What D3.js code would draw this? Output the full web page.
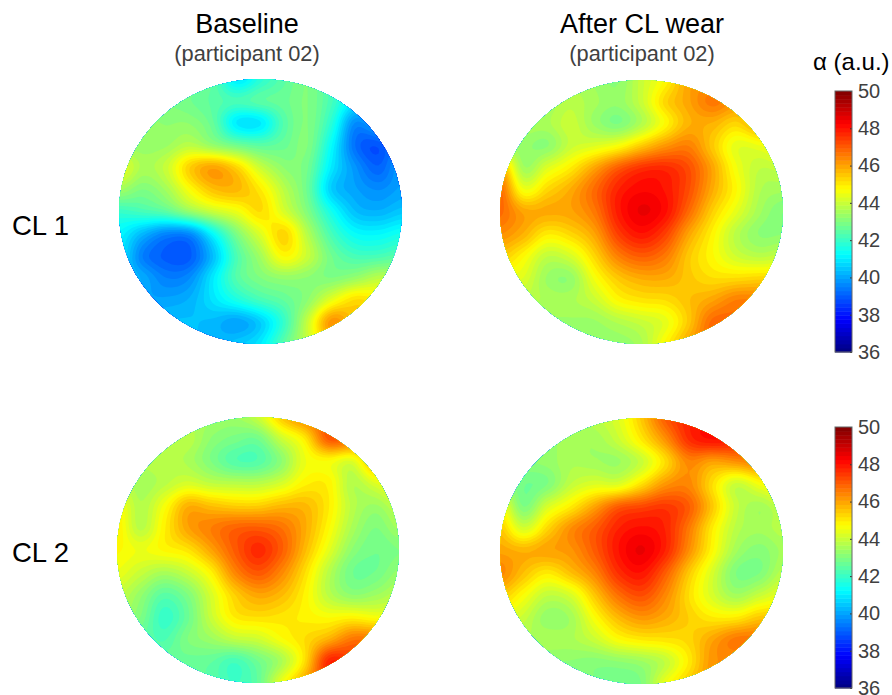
<!DOCTYPE html>
<html>
<head>
<meta charset="utf-8">
<script src="https://cdn.jsdelivr.net/npm/d3@7"></script>
<style>
  html, body { margin: 0; padding: 0; background: #fff; overflow: hidden; }
  text { font-family: "Liberation Sans", Arial, sans-serif; }
</style>
</head>
<body>
<svg id="viz" width="892" height="695"></svg>
<script>
window.onload = main;

var colorTicks = [36, 38, 40, 42, 44, 46, 48, 50];
var colorDomain = [36, 50];
var colorLevels = 64;

var columnTitles = ["Baseline", "After CL wear"];
var columnNote = "(participant 02)";
var rowTitles = ["CL 1", "CL 2"];
var colorTitle = "α (a.u.)";

// alpha on a 13x13 grid over each disc's bounding box (outside the disc = nearest edge value)
var baselineCL1 = [
  [43.0, 43.0, 43.0, 43.0, 42.5, 41.0, 41.8, 42.5, 43.0, 42.2, 41.5, 41.0, 41.0],
  [43.0, 43.0, 43.0, 42.8, 42.5, 42.2, 42.5, 42.7, 43.0, 42.2, 41.0, 41.0, 41.0],
  [43.3, 43.3, 43.2, 43.2, 42.6, 41.0, 41.0, 42.4, 43.0, 41.8, 39.7, 40.3, 41.0],
  [43.4, 43.3, 43.4, 43.8, 43.3, 42.8, 42.5, 42.7, 43.0, 41.3, 39.3, 38.9, 40.0],
  [44.5, 43.6, 44.0, 45.4, 46.0, 45.3, 44.0, 43.2, 42.8, 41.0, 39.8, 39.1, 40.0],
  [43.5, 43.0, 43.5, 44.7, 45.6, 45.7, 45.0, 43.8, 42.7, 40.6, 40.0, 39.7, 40.0],
  [42.0, 42.2, 42.5, 43.3, 44.0, 44.5, 45.2, 44.2, 43.0, 41.5, 40.4, 40.2, 40.5],
  [41.2, 40.3, 39.6, 39.7, 41.3, 43.0, 44.3, 45.3, 43.7, 42.2, 41.3, 41.2, 41.5],
  [41.0, 39.5, 39.0, 39.0, 40.4, 42.3, 43.5, 44.8, 44.0, 42.8, 42.2, 42.2, 42.5],
  [40.6, 40.1, 39.5, 39.7, 41.0, 42.4, 43.0, 43.3, 43.2, 43.0, 43.3, 43.8, 43.8],
  [40.0, 40.0, 40.0, 40.2, 40.9, 41.6, 42.2, 42.6, 43.2, 44.4, 45.2, 45.0, 45.0],
  [40.4, 40.4, 40.4, 40.4, 40.3, 40.0, 40.6, 42.0, 44.0, 46.2, 45.5, 45.5, 45.5],
  [40.4, 40.4, 40.4, 40.4, 40.3, 40.5, 41.0, 42.5, 44.0, 45.5, 45.0, 45.0, 45.0]
];
var afterCL1 = [
  [43.5, 43.5, 43.5, 43.6, 43.4, 43.2, 44.0, 44.8, 46.0, 46.2, 46.2, 46.2, 46.2],
  [43.5, 43.5, 43.5, 43.8, 43.5, 43.3, 44.0, 45.3, 46.0, 46.6, 46.2, 46.2, 46.2],
  [43.6, 43.6, 43.6, 44.0, 43.4, 43.0, 43.7, 44.8, 45.8, 45.8, 45.3, 46.0, 46.0],
  [43.5, 43.3, 43.2, 44.0, 44.3, 44.7, 45.5, 46.2, 46.5, 45.5, 44.4, 44.5, 45.0],
  [46.0, 43.5, 44.3, 45.0, 46.0, 47.0, 47.6, 47.7, 47.2, 46.0, 44.6, 43.9, 44.0],
  [46.8, 44.6, 45.3, 45.9, 46.8, 47.8, 48.2, 48.0, 47.2, 45.9, 44.8, 43.7, 43.5],
  [46.8, 46.0, 45.9, 46.0, 46.6, 47.9, 48.5, 48.1, 46.8, 45.4, 44.4, 43.5, 43.0],
  [46.3, 45.8, 45.0, 45.3, 46.0, 47.4, 48.0, 47.4, 46.0, 44.9, 43.8, 43.2, 43.2],
  [45.5, 44.8, 43.9, 44.2, 45.3, 46.5, 47.0, 46.6, 45.5, 44.8, 44.1, 43.8, 44.0],
  [44.5, 44.3, 43.4, 43.3, 44.6, 45.5, 45.9, 45.9, 45.5, 45.2, 45.2, 45.3, 45.3],
  [43.8, 43.8, 43.6, 43.6, 44.0, 44.8, 45.1, 45.2, 45.6, 46.0, 46.5, 46.5, 46.5],
  [43.4, 43.4, 43.4, 43.4, 43.4, 43.7, 44.0, 44.4, 45.5, 46.8, 46.8, 46.8, 46.8],
  [43.4, 43.4, 43.4, 43.4, 43.4, 43.3, 43.6, 44.8, 46.0, 46.8, 46.8, 46.8, 46.8]
];
var baselineCL2 = [
  [43.6, 43.6, 43.6, 43.6, 43.5, 43.4, 44.0, 45.5, 46.5, 47.0, 47.0, 47.0, 47.0],
  [43.6, 43.6, 43.7, 43.8, 43.2, 42.9, 42.8, 44.0, 45.0, 47.0, 46.8, 46.5, 46.5],
  [43.7, 43.7, 43.8, 43.6, 43.0, 42.4, 42.4, 43.2, 44.5, 44.7, 44.3, 46.0, 46.0],
  [44.0, 43.5, 43.8, 44.2, 43.9, 43.8, 43.8, 44.2, 44.9, 44.9, 43.7, 44.3, 45.0],
  [44.8, 43.7, 44.6, 45.8, 45.6, 45.4, 45.4, 45.7, 45.7, 45.0, 43.8, 43.4, 44.0],
  [45.0, 43.8, 44.9, 46.0, 46.5, 46.9, 47.0, 46.7, 45.9, 44.8, 43.6, 43.0, 43.5],
  [44.8, 44.5, 44.8, 45.1, 46.0, 47.0, 47.7, 47.0, 45.7, 44.4, 43.2, 42.8, 43.0],
  [44.5, 44.0, 43.6, 44.0, 44.9, 46.4, 47.1, 46.4, 45.2, 43.8, 42.8, 42.8, 43.3],
  [44.0, 43.3, 42.5, 43.0, 44.2, 45.4, 46.0, 45.7, 44.9, 43.8, 43.2, 43.4, 43.8],
  [43.5, 43.0, 42.0, 42.7, 44.0, 45.0, 45.2, 45.1, 44.9, 44.7, 44.8, 44.6, 44.6],
  [42.6, 42.6, 42.3, 43.0, 43.4, 43.9, 44.1, 44.7, 45.2, 45.8, 46.6, 46.6, 46.6],
  [42.7, 42.7, 42.7, 42.7, 42.6, 42.2, 42.8, 43.6, 45.2, 47.7, 47.5, 47.5, 47.5],
  [42.7, 42.7, 42.7, 42.7, 42.5, 42.1, 42.6, 44.5, 46.0, 47.5, 47.5, 47.5, 47.5]
];
var afterCL2 = [
  [43.5, 43.5, 43.5, 43.5, 43.8, 44.3, 45.5, 47.0, 47.8, 48.0, 48.0, 48.0, 48.0],
  [43.4, 43.4, 43.4, 43.5, 43.5, 44.0, 45.0, 46.2, 47.6, 48.0, 47.8, 47.6, 47.6],
  [43.2, 43.2, 43.3, 43.6, 43.5, 43.4, 44.0, 45.2, 46.4, 46.0, 46.2, 46.5, 46.5],
  [43.5, 42.8, 43.0, 43.9, 44.3, 44.3, 45.2, 46.2, 46.4, 45.2, 44.0, 44.6, 45.2],
  [44.8, 43.0, 44.2, 45.0, 46.0, 47.0, 47.3, 47.5, 47.0, 45.5, 44.0, 43.5, 44.0],
  [45.5, 44.2, 45.3, 46.3, 47.0, 47.8, 48.1, 47.8, 46.6, 45.0, 43.8, 43.5, 43.8],
  [46.0, 45.8, 46.0, 46.2, 47.0, 48.0, 48.5, 47.8, 46.3, 44.8, 43.5, 43.1, 43.5],
  [46.4, 45.6, 45.0, 45.6, 46.4, 47.6, 48.0, 47.0, 45.5, 44.2, 43.0, 43.0, 43.8],
  [45.5, 44.7, 43.9, 44.2, 45.5, 46.7, 47.2, 46.4, 45.2, 44.2, 43.5, 44.0, 44.5],
  [44.5, 44.0, 43.3, 43.5, 44.7, 45.7, 46.2, 45.9, 45.4, 45.0, 45.0, 45.5, 45.5],
  [43.6, 43.6, 43.6, 43.6, 44.0, 44.7, 45.0, 45.1, 45.3, 46.0, 46.6, 46.6, 46.6],
  [43.2, 43.2, 43.2, 43.2, 43.1, 43.2, 43.4, 43.9, 45.0, 46.2, 46.2, 46.2, 46.2],
  [43.2, 43.2, 43.2, 43.2, 43.0, 42.8, 43.0, 44.5, 45.5, 46.2, 46.2, 46.2, 46.2]
];

var upsample = 8; // contours are traced on a finer mesh so the bands come out round

var panels = [
  {values: baselineCL1, x: [119, 402], y: [79, 344]},
  {values: afterCL1, x: [500, 783], y: [80, 344]},
  {values: baselineCL2, x: [117, 399], y: [417, 683]},
  {values: afterCL2, x: [500, 783], y: [418, 684]}
];
var bars = [[352, 91], [688, 427]];

function main(){
  var svg = d3.select("#viz");
  drawTitles(svg);
  panels.forEach(function(panel, i){
    drawPanel(svg, panel, i);
  });
  bars.forEach(function(range){
    drawColorbar(svg, range);
  });
}

// jet colormap in 64 flat steps, same as the bar
function jet(v){
  var t = (v - colorDomain[0]) / (colorDomain[1] - colorDomain[0]);
  t = Math.max(0, Math.min(0.9999, t));
  t = (Math.floor(t * colorLevels) + 0.5) / colorLevels;
  var ramp = function(c){ return Math.round(255 * Math.max(0, Math.min(1, 1.5 - Math.abs(4 * t - c)))); };
  return d3.rgb(ramp(3), ramp(2), ramp(1)).formatHex();
}

// smooth a row of read values with catmull-rom
function catmull(a, b, c, d, t){
  return 0.5 * (2 * b + (c - a) * t + (2 * a - 5 * b + 4 * c - d) * t * t + (3 * b - a - 3 * c + d) * t * t * t);
}

function refine(values){
  var n = values.length, size = (n - 1) * upsample + 1, out = new Array(size * size);
  var at = function(r, c){
    return values[Math.max(0, Math.min(n - 1, r))][Math.max(0, Math.min(n - 1, c))];
  };
  for(var j = 0; j < size; j++){
    var r = Math.min(n - 2, Math.floor(j / upsample)), tr = j / upsample - r;
    for(var i = 0; i < size; i++){
      var c = Math.min(n - 2, Math.floor(i / upsample)), tc = i / upsample - c;
      var rows = [-1, 0, 1, 2].map(function(dr){
        return catmull(at(r + dr, c - 1), at(r + dr, c), at(r + dr, c + 1), at(r + dr, c + 2), tc);
      });
      out[j * size + i] = catmull(rows[0], rows[1], rows[2], rows[3], tr);
    }
  }
  return {size: size, data: out};
}

function drawPanel(svg, panel, idx){
  var mesh = refine(panel.values);
  var xScale = d3.scaleLinear().domain([0, mesh.size - 1]).range(panel.x);
  var yScale = d3.scaleLinear().domain([0, mesh.size - 1]).range(panel.y);
  var project = d3.geoTransform({
    point: function(x, y){ this.stream.point(xScale(x - 0.5), yScale(y - 0.5)); }
  });
  var path = d3.geoPath(project);

  var step = (colorDomain[1] - colorDomain[0]) / colorLevels;
  var thresholds = d3.range(colorLevels).map(function(k){ return colorDomain[0] + k * step; });
  var contours = d3.contours().size([mesh.size, mesh.size]).smooth(true).thresholds(thresholds)(mesh.data);

  svg.append("clipPath").attr("id", "disc" + idx)
    .append("ellipse")
    .attr("cx", (panel.x[0] + panel.x[1]) / 2)
    .attr("cy", (panel.y[0] + panel.y[1]) / 2)
    .attr("rx", (panel.x[1] - panel.x[0]) / 2)
    .attr("ry", (panel.y[1] - panel.y[0]) / 2);

  svg.append("g")
    .attr("clip-path", "url(#disc" + idx + ")")
    .selectAll("path")
    .data(contours)
    .join("path")
    .attr("d", path)
    .attr("fill", function(d){ return jet(d.value + step / 2); });
}

function drawColorbar(svg, range){
  var scale = d3.scaleLinear().domain(colorDomain).range(range);
  var step = (colorDomain[1] - colorDomain[0]) / colorLevels;
  var g = svg.append("g");
  g.selectAll("rect")
    .data(d3.range(colorLevels))
    .join("rect")
    .attr("x", 835)
    .attr("width", 17)
    .attr("y", function(k){ return scale(colorDomain[0] + (k + 1) * step); })
    .attr("height", function(k){ return scale(colorDomain[0] + k * step) - scale(colorDomain[0] + (k + 1) * step) + 0.5; })
    .attr("fill", function(k){ return jet(colorDomain[0] + (k + 0.5) * step); });

  var axis = d3.axisRight(scale).tickValues(colorTicks).tickSize(-2).tickPadding(8);
  var ag = svg.append("g").attr("transform", "translate(852,0)").call(axis);
  ag.select(".domain").remove();
  ag.selectAll("line").attr("stroke", "#333");
  ag.selectAll("text").attr("font-size", 20).attr("fill", "#404040").attr("x", 6);

  svg.append("rect")
    .attr("x", 835).attr("y", range[1])
    .attr("width", 17).attr("height", range[0] - range[1])
    .attr("fill", "none").attr("stroke", "#666").attr("stroke-width", 1);
}

function drawTitles(svg){
  var cols = [247, 642];
  columnTitles.forEach(function(t, i){
    svg.append("text").attr("x", cols[i]).attr("y", 33)
      .attr("text-anchor", "middle").attr("font-size", 27).attr("fill", "#000").text(t);
    svg.append("text").attr("x", cols[i]).attr("y", 61)
      .attr("text-anchor", "middle").attr("font-size", 21.8).attr("fill", "#404040").text(columnNote);
  });
  var rows = [235, 562];
  rowTitles.forEach(function(t, i){
    svg.append("text").attr("x", 12).attr("y", rows[i])
      .attr("font-size", 27.5).attr("fill", "#000").text(t);
  });
  svg.append("text").attr("x", 813).attr("y", 70)
    .attr("font-size", 24).attr("fill", "#000").text(colorTitle);
}
</script>
</body>
</html>
